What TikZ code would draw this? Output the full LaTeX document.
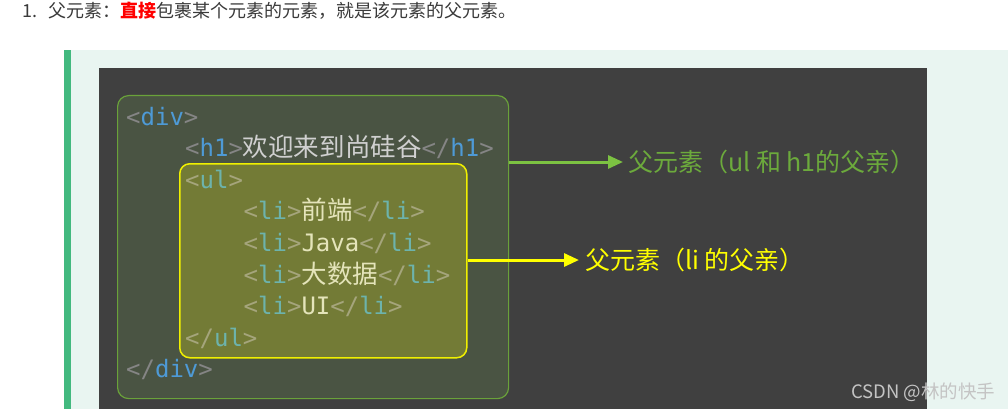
\documentclass[tikz,border=0pt]{standalone}
\usepackage{fontspec}
\usetikzlibrary{arrows.meta}
\newfontfamily\cjk{Noto Sans CJK SC}
\newfontfamily\mono{DejaVu Sans Mono}
\definecolor{pagebg}{HTML}{FFFFFF}
\definecolor{quotebg}{HTML}{E9F5F1}
\definecolor{quotebar}{HTML}{43B97F}
\definecolor{panel}{HTML}{404040}
\definecolor{divfill}{HTML}{4A5443}
\definecolor{divline}{HTML}{6AA23A}
\definecolor{ulfill}{HTML}{737B36}
\definecolor{ulline}{HTML}{F0F000}
\definecolor{brk}{HTML}{858585}
\definecolor{tagc}{HTML}{4E9AD6}
\definecolor{txtc}{HTML}{D0D0D0}
\definecolor{ubrk}{HTML}{A5A57C}
\definecolor{utag}{HTML}{6DB3AC}
\definecolor{utxt}{HTML}{E4E4BA}
\definecolor{greenarr}{HTML}{7CC242}
\definecolor{greenlab}{HTML}{6CAA3C}
\definecolor{yellowarr}{HTML}{FFFF00}
\definecolor{headtxt}{HTML}{3A3A3A}
\definecolor{wm}{HTML}{C4C4C4}
\newcommand\cb[1]{\textcolor{brk}{#1}}
\newcommand\ct[1]{\textcolor{tagc}{#1}}
\newcommand\cx[1]{\textcolor{txtc}{#1}}
\newcommand\ub[1]{\textcolor{ubrk}{#1}}
\newcommand\ut[1]{\textcolor{utag}{#1}}
\newcommand\ux[1]{\textcolor{utxt}{#1}}
\newcommand\cjkcode{\cjk\fontsize{25.5}{26}\selectfont}
\tikzset{
  code/.style={anchor=base west, inner sep=0pt, font=\mono\fontsize{24}{26}\selectfont},
  boxdiv/.style={draw=divline, fill=divfill, line width=1.2pt, rounded corners=11pt, anchor=north west, inner sep=0pt},
  boxul/.style={draw=ulline, fill=ulfill, line width=1.5pt, rounded corners=10pt, anchor=north west, inner sep=0pt},
  lab/.style={anchor=west, inner sep=0pt, font=\cjk\fontsize{25}{26}\selectfont},
  arr/.style={line width=3pt, -{Triangle[length=15pt,width=13pt]}}
}
\begin{document}
\begin{tikzpicture}[x=1pt,y=-1pt]
\useasboundingbox (0,0) rectangle (1008,409);
\fill[pagebg] (0,0) rectangle (1008,409);
\fill[quotebg] (70,50) rectangle (1008,409);
\fill[quotebar] (64,50) rectangle (71,409);
\fill[panel] (99,68) rectangle (927,409);
% heading
\node[anchor=base west, inner sep=0pt, font=\cjk\fontsize{18}{19}\selectfont, text=headtxt] (num) at (22,17.5) {1.};
\node[anchor=base west, inner sep=0pt, font=\cjk\fontsize{18}{19}\selectfont, text=headtxt] (head) at (48,17.5)
  {父元素：\textcolor{red}{\bfseries 直接}包裹某个元素的元素，就是该元素的父元素。};
% boxes
\node[boxdiv, minimum width=391pt, minimum height=303pt] (divbox) at (117,95) {};
\node[boxul, minimum width=287pt, minimum height=194pt] (ulbox) at (179,163) {};
% code lines
\node[code] (l1) at (126,125) {\cb{<}\ct{div}\cb{>}};
\node[code] (l2) at (185,156.6) {\cb{<}\ct{h1}\cb{>}{\cjkcode\cx{欢迎来到尚硅谷}}\cb{</}\ct{h1}\cb{>}};
\node[code] (l3) at (185,188.2) {\ub{<}\ut{ul}\ub{>}};
\node[code] (l4) at (243.5,219.8) {\ub{<}\ut{li}\ub{>}{\cjkcode\ux{前端}}\ub{</}\ut{li}\ub{>}};
\node[code] (l5) at (243.5,251.4) {\ub{<}\ut{li}\ub{>}\ux{Java}\ub{</}\ut{li}\ub{>}};
\node[code] (l6) at (243.5,283) {\ub{<}\ut{li}\ub{>}{\cjkcode\ux{大数据}}\ub{</}\ut{li}\ub{>}};
\node[code] (l7) at (243.5,314.6) {\ub{<}\ut{li}\ub{>}\ux{UI}\ub{</}\ut{li}\ub{>}};
\node[code] (l8) at (185,346.2) {\ub{</}\ut{ul}\ub{>}};
\node[code] (l9) at (126,377.8) {\cb{</}\ct{div}\cb{>}};
% labels
\node[lab, text=greenlab] (lab1) at (628,162) {父元素（ul 和 h1的父亲）};
\node[lab, text=yellowarr] (lab2) at (585,260) {父元素（li 的父亲）};
% arrows
\draw[arr, greenarr] (divbox.east |- lab1.west) -- ([xshift=-5pt]lab1.west);
\draw[arr, yellowarr] (ulbox.east |- lab2.west) -- ([xshift=-6pt]lab2.west);
% watermark
\node[anchor=base west, inner sep=0pt, font=\cjk\fontsize{18.5}{19}\selectfont, text=wm] (wmark) at (851,398) {CSDN @林的快手};
\end{tikzpicture}
\end{document}
